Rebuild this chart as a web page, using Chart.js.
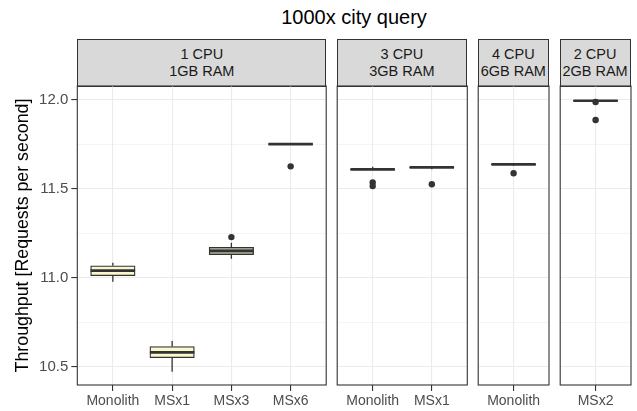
<!DOCTYPE html>
<html>
<head>
<meta charset="utf-8">
<script src="https://cdn.jsdelivr.net/npm/chart.js@4"></script>
<style>
html,body{margin:0;padding:0;background:#fff;width:637px;height:411px;overflow:hidden;font-family:"Liberation Sans",Arial,Helvetica,sans-serif;}
.strip{position:absolute;box-sizing:border-box;background:#D9D9D9;border:1.1px solid #333333;color:#1A1A1A;font-size:14.5px;line-height:17px;text-align:center;display:flex;align-items:center;justify-content:center;}
#title{position:absolute;top:7px;left:0;width:708px;text-align:center;font-size:20px;line-height:20px;color:#000;}
</style>
</head>
<body>
<div id="title">1000x city query</div>
<script>
// ---------------- DATA ----------------
const stripLabels = [['1 CPU', '1GB RAM'], ['3 CPU', '3GB RAM'], ['4 CPU', '6GB RAM'], ['2 CPU', '2GB RAM']];
const yTitle = 'Throughput [Requests per second]';

const panel1Categories = ['Monolith', 'MSx1', 'MSx3', 'MSx6'];
const panel2Categories = ['Monolith', 'MSx1'];
const panel3Categories = ['Monolith'];
const panel4Categories = ['MSx2'];

// [lower whisker, Q1, median, Q3, upper whisker]
const panel1Stats = [
  [10.978, 11.012, 11.040, 11.068, 11.085],
  [10.472, 10.551, 10.581, 10.613, 10.644],
  [11.107, 11.130, 11.151, 11.172, 11.197],
  [11.748, 11.750, 11.752, 11.754, 11.756]
];
const panel2Stats = [
  [11.606, 11.607, 11.610, 11.612, 11.625],
  [11.610, 11.619, 11.621, 11.623, 11.625]
];
const panel3Stats = [
  [11.630, 11.636, 11.638, 11.640, 11.642]
];
const panel4Stats = [
  [11.985, 11.994, 11.996, 11.998, 12.000]
];

// outliers: [category number, value]
const panel1Outliers = [[3, 11.229], [4, 11.627]];
const panel2Outliers = [[1, 11.536], [1, 11.516], [2, 11.526]];
const panel3Outliers = [[1, 11.588]];
const panel4Outliers = [[1, 11.989], [1, 11.888]];

const yMajorTicks = [10.5, 11.0, 11.5, 12.0];
const yMinorTicks = [10.75, 11.25, 11.75];
const yLimits = [10.397, 12.079];

// ---------------- STYLE / LAYOUT ----------------
const PALE = '#FAF7CD', OLIVE = '#B4B49C';
const panelFills = [[PALE, PALE, OLIVE, PALE], [PALE, PALE], [PALE], [PALE]];
const UNIT = 59.3;                 // px per category unit
const PANEL_LEFT = [77.3, 336.7, 477.7, 559.5];
const STRIP_TOP = 39, PANEL_TOP = 86, PANEL_BOTTOM = 385;
const CANVAS_TOP = 56, PAGE_H = 411, PAD = 3;
const DARK = '#333333', GRID = '#EBEBEB', TICKTXT = '#4D4D4D';
const FONT = "'Liberation Sans', Arial, Helvetica, sans-serif";

const panels = [
  {cats: panel1Categories, stats: panel1Stats, outliers: panel1Outliers},
  {cats: panel2Categories, stats: panel2Stats, outliers: panel2Outliers},
  {cats: panel3Categories, stats: panel3Stats, outliers: panel3Outliers},
  {cats: panel4Categories, stats: panel4Stats, outliers: panel4Outliers}
];

const isMajor = v => yMajorTicks.some(m => Math.abs(m - v) < 1e-9);

function boxLinesPlugin(stats) {
  return {
    id: 'boxLines',
    beforeDatasetsDraw(chart) {
      const {ctx, scales: {x, y}} = chart;
      ctx.save();
      ctx.strokeStyle = DARK; ctx.lineWidth = 1.3; ctx.lineCap = 'butt';
      stats.forEach((s, i) => {
        const px = x.getPixelForValue(i + 1);
        ctx.beginPath();
        ctx.moveTo(px, y.getPixelForValue(s[3])); ctx.lineTo(px, y.getPixelForValue(s[4]));
        ctx.moveTo(px, y.getPixelForValue(s[1])); ctx.lineTo(px, y.getPixelForValue(s[0]));
        ctx.stroke();
      });
      ctx.restore();
    },
    afterDatasetsDraw(chart) {
      const {ctx, scales: {x, y}} = chart;
      ctx.save();
      ctx.strokeStyle = DARK; ctx.lineWidth = 2.7;
      stats.forEach((s, i) => {
        const x0 = x.getPixelForValue(i + 1 - 0.375), x1 = x.getPixelForValue(i + 1 + 0.375);
        const py = y.getPixelForValue(s[2]);
        ctx.beginPath(); ctx.moveTo(x0, py); ctx.lineTo(x1, py); ctx.stroke();
      });
      ctx.restore();
    },
    afterDraw(chart) {
      const {ctx, chartArea: a} = chart;
      ctx.save();
      ctx.strokeStyle = DARK; ctx.lineWidth = 1.1;
      ctx.strokeRect(a.left, a.top, a.right - a.left, a.bottom - a.top);
      ctx.restore();
    }
  };
}

panels.forEach((p, k) => {
  const n = p.cats.length;
  const left = PANEL_LEFT[k];
  const width = (n + 0.2) * UNIT;
  const showY = k === 0;
  const cLeft = showY ? 0 : left - PAD;
  const cWidth = showY ? left + width + PAD : width + 2 * PAD;

  const strip = document.createElement('div');
  strip.className = 'strip';
  strip.style.left = left + 'px';
  strip.style.top = STRIP_TOP + 'px';
  strip.style.width = width + 'px';
  strip.style.height = (PANEL_TOP - STRIP_TOP + 0.55) + 'px';
  strip.innerHTML = stripLabels[k].join('<br>');
  document.body.appendChild(strip);

  const holder = document.createElement('div');
  holder.style.cssText = `position:absolute;left:${cLeft}px;top:${CANVAS_TOP}px;width:${cWidth}px;height:${PAGE_H - CANVAS_TOP}px;`;
  const canvas = document.createElement('canvas');
  holder.appendChild(canvas);
  document.body.appendChild(holder);

  new Chart(canvas, {
    type: 'bar',
    data: {
      datasets: [
        {
          type: 'scatter',
          data: p.outliers.map(o => ({x: o[0], y: o[1]})),
          pointRadius: 3.2, pointHoverRadius: 3.2,
          pointBackgroundColor: DARK, pointBorderWidth: 0, showLine: false
        },
        {
          type: 'bar',
          data: p.stats.map((s, i) => ({x: i + 1, y: [s[1], s[3]]})),
          backgroundColor: panelFills[k],
          borderColor: DARK, borderWidth: 1.3, borderSkipped: false,
          barThickness: 0.75 * UNIT, grouped: false
        }
      ]
    },
    options: {
      responsive: true, maintainAspectRatio: false, animation: false,
      events: [],
      layout: {padding: {left: showY ? 0 : PAD, right: PAD, top: PANEL_TOP - CANVAS_TOP, bottom: 0}},
      plugins: {legend: {display: false}, tooltip: {enabled: false}, title: {display: false}},
      scales: {
        x: {
          type: 'linear', min: 0.4, max: n + 0.6, offset: false,
          afterBuildTicks: s => { s.ticks = p.cats.map((c, i) => ({value: i + 1})); },
          afterFit: s => { s.height = PAGE_H - PANEL_BOTTOM; },
          border: {display: false},
          grid: {offset: false, color: GRID, lineWidth: 1.1, drawTicks: true, tickLength: 6, tickColor: DARK, tickWidth: 1.1},
          ticks: {
            autoSkip: false, maxRotation: 0, padding: 2,
            color: TICKTXT, font: {family: FONT, size: 14},
            callback: v => p.cats[Math.round(v) - 1]
          }
        },
        y: {
          type: 'linear', min: yLimits[0], max: yLimits[1],
          afterBuildTicks: s => { s.ticks = [...yMajorTicks, ...yMinorTicks].sort((a, b) => a - b).map(v => ({value: v})); },
          afterFit: s => { s.width = showY ? left : 0; },
          border: {display: false},
          grid: {
            color: GRID,
            lineWidth: c => isMajor(c.tick.value) ? 1.1 : 0.55,
            drawTicks: showY, tickLength: 6,
            tickColor: c => isMajor(c.tick.value) ? DARK : 'rgba(0,0,0,0)', tickWidth: 1.1
          },
          ticks: {
            display: showY, autoSkip: false, padding: 3,
            color: TICKTXT, font: {family: FONT, size: 15},
            callback: v => isMajor(v) ? v.toFixed(1) : ''
          },
          title: {
            display: showY, text: yTitle, color: '#000',
            font: {family: FONT, size: 17.8}, padding: {top: 12, bottom: 0}
          }
        }
      }
    },
    plugins: [boxLinesPlugin(p.stats)]
  });
});
</script>
</body>
</html>
